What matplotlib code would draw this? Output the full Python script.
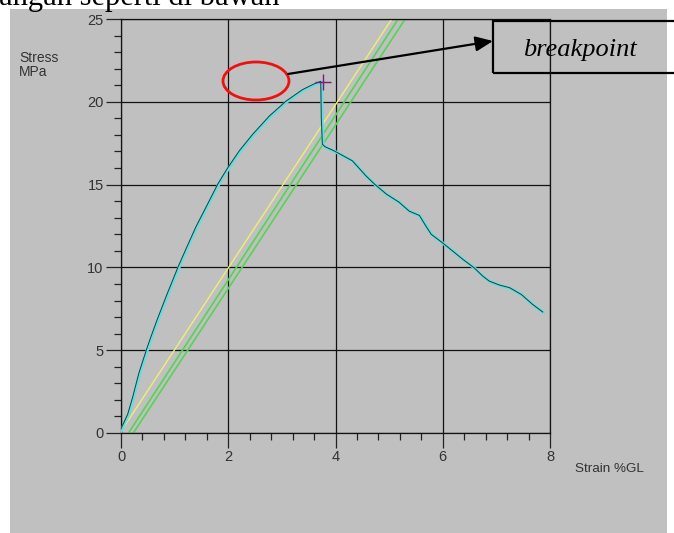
import matplotlib
matplotlib.use('Agg')
import matplotlib.pyplot as plt
from matplotlib.patches import Rectangle, Ellipse, FancyArrowPatch
from matplotlib.ticker import MultipleLocator
from matplotlib.transforms import offset_copy

####******************************** data ********************************####
strain = [0.0, 0.04, 0.14, 0.23, 0.35, 0.49, 0.57, 0.70, 0.88, 1.08, 1.23,
          1.41, 1.60, 1.82, 2.0, 2.22, 2.47, 2.78, 3.09, 3.40, 3.62, 3.74,
          3.75, 3.77, 3.82, 3.99, 4.33, 4.58, 4.74, 4.96, 5.2, 5.39, 5.58,
          5.70, 5.8, 6.01, 6.2, 6.39, 6.6, 6.76, 6.88, 7.07, 7.26, 7.48,
          7.69, 7.88]
stress = [0.1, 0.4, 1.1, 2.1, 3.6, 5.0, 5.75, 6.9, 8.4, 10.0, 11.1,
          12.4, 13.6, 15.0, 15.95, 17.0, 18.0, 19.1, 20.0, 20.7, 21.05, 21.2,
          19.0, 17.4, 17.25, 17.0, 16.4, 15.5, 15.0, 14.4, 13.9, 13.36, 13.1,
          12.46, 11.96, 11.45, 10.95, 10.45, 9.94, 9.44, 9.14, 8.9, 8.74, 8.33,
          7.73, 7.27]

# modulus lines (yellow + two green offsets)
yellow_x = [0.0, 5.05]
yellow_y = [0.1, 25.0]
green1_x = [0.14, 5.17]
green1_y = [0.0, 25.0]
green2_x = [0.23, 5.3]
green2_y = [0.0, 25.0]

break_x = [3.76]
break_y = [21.2]

xticks = [0, 2, 4, 6, 8]
yticks = [0, 5, 10, 15, 20, 25]
####**********************************************************************####

W, H = 674, 533
fig = plt.figure(figsize=(W / 100, H / 100), dpi=100)
fig.patch.set_facecolor('white')

def fx(px):
    return px / W

def fy(py):
    return 1 - py / H

# gray panel
fig.patches.append(Rectangle((fx(10), 0), fx(667) - fx(10), fy(9),
                             transform=fig.transFigure, facecolor='#c0c0c0',
                             edgecolor='none', zorder=-10))

# clipped line of text at the very top
fig.text(fx(-1), fy(5), 'angan seperti di bawah', family='Liberation Serif',
         fontsize=22, ha='left', va='baseline', color='black')

ax = fig.add_axes([fx(121), fy(433), fx(550) - fx(121), fy(19) - fy(433)])
ax.set_facecolor('none')

ax.plot(yellow_x, yellow_y, color='#eeee77', lw=1.0, zorder=2)
ax.plot(green1_x, green1_y, color='#55d455', lw=1.2, zorder=2)
ax.plot(green2_x, green2_y, color='#55d455', lw=1.2, zorder=2)
ax.plot(strain, stress, color='#62dede', lw=2.3, zorder=3,
        solid_capstyle='round', solid_joinstyle='round')
edge = offset_copy(ax.transData, fig=fig, x=-0.8, y=0.6, units='dots')
ax.plot(strain, stress, color='#1c3c3c', lw=0.7, zorder=4, transform=edge)
ax.plot(break_x, break_y, marker='+', ms=12, mew=1.0, color='#7a1a7a',
        ls='none', zorder=5)

ax.set_xlim(0, 8)
ax.set_ylim(0, 25)
ax.set_xticks(xticks)
ax.set_yticks(yticks)
ax.xaxis.set_minor_locator(MultipleLocator(0.4))
ax.yaxis.set_minor_locator(MultipleLocator(1))
ax.tick_params(which='major', length=11, width=0.9, color='#222222', pad=1.5,
               labelsize=10.5, labelcolor='#333333')
ax.tick_params(which='minor', length=5, width=0.9, color='#222222')
for lab in ax.get_xticklabels() + ax.get_yticklabels():
    lab.set_family('Liberation Sans')
ax.grid(True, which='major', color='#111111', lw=0.9)
for s in ax.spines.values():
    s.set_color('#111111')
    s.set_linewidth(0.9)

fig.text(fx(19), fy(51), 'Stress\nMPa', family='Liberation Sans', fontsize=10,
         ha='left', va='top', color='#333333', linespacing=1.0)
fig.text(fx(575), fy(472), 'Strain %GL', family='Liberation Sans', fontsize=9.7,
         ha='left', va='baseline', color='#333333')

# breakpoint annotation
fig.patches.append(Rectangle((fx(493), fy(73)), fx(700) - fx(493), fy(21) - fy(73),
                             transform=fig.transFigure, facecolor='none',
                             edgecolor='black', lw=1.6, zorder=6))
fig.text(fx(580), fy(50), 'breakpoint', family='Liberation Serif', style='italic',
         fontsize=19, ha='center', va='center', color='black', zorder=7)
fig.patches.append(Ellipse((fx(256), fy(81)), fx(66), 38 / H,
                           transform=fig.transFigure, facecolor='none',
                           edgecolor='#ee1111', lw=2.0, zorder=6))
fig.patches.append(FancyArrowPatch((fx(288), fy(74)), (fx(493), fy(41)),
                                   transform=fig.transFigure,
                                   arrowstyle='-|>,head_length=0.7,head_width=0.3',
                                   mutation_scale=15, color='black', lw=1.6,
                                   shrinkA=0, shrinkB=0, zorder=6))

fig.savefig('out.png', dpi=100)
